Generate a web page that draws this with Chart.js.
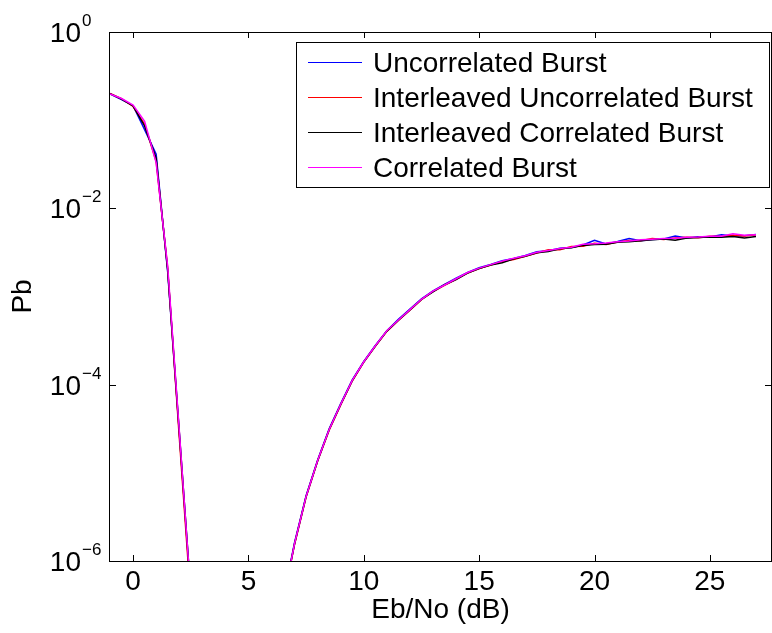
<!DOCTYPE html>
<html lang="en">
<head>
<meta charset="UTF-8">
<title>Pb vs Eb/No</title>
<script src="https://cdn.jsdelivr.net/npm/chart.js"></script>
<style>
  html, body { margin: 0; padding: 0; background: #fff; }
  #wrap { width: 772px; height: 633px; }
</style>
</head>
<body>
<div id="wrap"><canvas id="pbChart"></canvas></div>
<script>
// Eb/No in dB (x axis)
const ebno = [-1, -0.5, 0, 0.5, 1, 1.5, 2, 2.5, 3, 3.5, 4, 4.5, 5, 5.5, 6, 6.5,
  7, 7.5, 8, 8.5, 9, 9.5, 10, 10.5, 11, 11.5, 12, 12.5, 13, 13.5, 14, 14.5,
  15, 15.5, 16, 16.5, 17, 17.5, 18, 18.5, 19, 19.5, 20, 20.5, 21, 21.5,
  22, 22.5, 23, 23.5, 24, 24.5, 25, 25.5, 26, 26.5, 27];

// bit error probability, null = no errors counted
const uncorrBurst = [0.199, 0.171, 0.146, 0.078, 0.041, 1.9e-3, 2.9e-5, 4.2e-7,
  null, null, null, null, null, null, null,
  3.6e-7, 1.62e-6, 5.5e-6, 1.40e-5, 3.15e-5, 6.1e-5, 1.13e-4, 1.84e-4, 2.78e-4, 4.10e-4,
  5.5e-4, 7.2e-4, 9.4e-4, 1.16e-3, 1.37e-3, 1.61e-3, 1.88e-3, 2.12e-3, 2.31e-3, 2.55e-3,
  2.70e-3, 2.92e-3, 3.22e-3, 3.30e-3, 3.52e-3, 3.60e-3, 3.84e-3, 4.35e-3, 3.95e-3, 4.20e-3,
  4.55e-3, 4.30e-3, 4.42e-3, 4.50e-3, 4.85e-3, 4.62e-3, 4.76e-3, 4.72e-3, 5.00e-3, 4.85e-3,
  4.90e-3, 5.05e-3];

const interUncorrBurst = [0.201, 0.175, 0.143, 0.090, 0.034, 2.1e-3, 2.6e-5, 3.6e-7,
  null, null, null, null, null, null, null,
  3.4e-7, 1.55e-6, 5.3e-6, 1.36e-5, 3.05e-5, 5.9e-5, 1.10e-4, 1.80e-4, 2.72e-4, 4.02e-4,
  5.35e-4, 7.0e-4, 9.2e-4, 1.14e-3, 1.34e-3, 1.57e-3, 1.85e-3, 2.07e-3, 2.28e-3, 2.49e-3,
  2.62e-3, 2.86e-3, 3.12e-3, 3.38e-3, 3.40e-3, 3.70e-3, 3.72e-3, 4.02e-3, 3.90e-3, 4.15e-3,
  4.32e-3, 4.30e-3, 4.55e-3, 4.42e-3, 4.62e-3, 4.70e-3, 4.64e-3, 4.82e-3, 4.80e-3, 4.95e-3,
  4.86e-3, 5.02e-3];

const interCorrBurst = [0.200, 0.173, 0.145, 0.086, 0.037, 2.0e-3, 3.0e-5, 4.4e-7,
  null, null, null, null, null, null, null,
  3.5e-7, 1.57e-6, 5.4e-6, 1.37e-5, 3.1e-5, 5.95e-5, 1.11e-4, 1.81e-4, 2.74e-4, 4.05e-4,
  5.38e-4, 7.05e-4, 9.25e-4, 1.13e-3, 1.36e-3, 1.56e-3, 1.84e-3, 2.08e-3, 2.27e-3, 2.42e-3,
  2.68e-3, 2.85e-3, 3.14e-3, 3.24e-3, 3.48e-3, 3.56e-3, 3.80e-3, 3.88e-3, 3.92e-3, 4.12e-3,
  4.18e-3, 4.30e-3, 4.40e-3, 4.48e-3, 4.35e-3, 4.60e-3, 4.66e-3, 4.72e-3, 4.70e-3, 4.80e-3,
  4.60e-3, 4.78e-3];

const corrBurst = [0.198, 0.176, 0.148, 0.097, 0.033, 2.2e-3, 3.1e-5, 4.3e-7,
  null, null, null, null, null, null, null,
  3.45e-7, 1.58e-6, 5.4e-6, 1.38e-5, 3.1e-5, 6.0e-5, 1.12e-4, 1.82e-4, 2.76e-4, 4.08e-4,
  5.42e-4, 7.1e-4, 9.3e-4, 1.15e-3, 1.35e-3, 1.59e-3, 1.87e-3, 2.10e-3, 2.30e-3, 2.52e-3,
  2.72e-3, 2.90e-3, 3.17e-3, 3.32e-3, 3.50e-3, 3.62e-3, 3.92e-3, 3.96e-3, 4.05e-3, 4.18e-3,
  4.26e-3, 4.40e-3, 4.46e-3, 4.55e-3, 4.58e-3, 4.70e-3, 4.74e-3, 4.82e-3, 4.83e-3, 5.15e-3,
  4.95e-3, 5.02e-3];

const seriesNames = ['Uncorrelated Burst', 'Interleaved Uncorrelated Burst',
  'Interleaved Correlated Burst', 'Correlated Burst'];
const xTicks = [0, 5, 10, 15, 20, 25];
const yTicks = [1e-6, 1e-4, 1e-2, 1];

const FONT = '"Liberation Sans", Arial, Helvetica, sans-serif';

function points(values) {
  return ebno.map((x, i) => ({ x: x, y: values[i] }));
}

// box, inward ticks, 10^n labels and the boxed legend, matlab style
const matlabAxes = {
  id: 'matlabAxes',
  afterDatasetsDraw(chart) {
    const ctx = chart.ctx;
    const a = chart.chartArea;
    const xs = chart.scales.x, ys = chart.scales.y;
    ctx.save();
    ctx.strokeStyle = '#000';
    ctx.lineWidth = 1;

    ctx.beginPath();
    xTicks.forEach(v => {
      const px = Math.round(xs.getPixelForValue(v)) + 0.5;
      ctx.moveTo(px, a.bottom); ctx.lineTo(px, a.bottom - 6);
      ctx.moveTo(px, a.top); ctx.lineTo(px, a.top + 6);
    });
    yTicks.forEach(v => {
      const py = Math.round(ys.getPixelForValue(v)) + 0.5;
      ctx.moveTo(a.left, py); ctx.lineTo(a.left + 6, py);
      ctx.moveTo(a.right, py); ctx.lineTo(a.right - 6, py);
    });
    ctx.stroke();
    ctx.strokeRect(a.left - 0.5, a.top + 0.5, a.right - a.left + 1, a.bottom - a.top);

    // y tick labels with superscript exponent
    ctx.fillStyle = '#000';
    ctx.textBaseline = 'alphabetic';
    yTicks.forEach(v => {
      const py = ys.getPixelForValue(v);
      const e = Math.round(Math.log10(v));
      ctx.font = '28px ' + FONT;
      ctx.textAlign = 'right';
      ctx.fillText('10', a.left - 29, py + 10);
      ctx.font = '17px ' + FONT;
      ctx.textAlign = 'left';
      ctx.fillText(e < 0 ? '\u2212' + (-e) : String(e), a.left - 28, py - 6);
    });

    // legend
    const lw = 473, lh = 145;
    const lx = a.right - 2 - lw, ly = a.top + 10;
    ctx.fillStyle = '#fff';
    ctx.fillRect(lx, ly, lw, lh);
    ctx.strokeStyle = '#000';
    ctx.strokeRect(lx + 0.5, ly + 0.5, lw, lh);
    chart.data.datasets.forEach((ds, i) => {
      const cy = ly + 20 + i * 35;
      ctx.strokeStyle = ds.borderColor;
      ctx.beginPath();
      ctx.moveTo(lx + 12, cy + 0.5);
      ctx.lineTo(lx + 66, cy + 0.5);
      ctx.stroke();
      ctx.fillStyle = '#000';
      ctx.font = '28px ' + FONT;
      ctx.textAlign = 'left';
      ctx.fillText(ds.label, lx + 77, cy + 10);
    });
    ctx.restore();
  }
};

const colors = ['#0000ff', '#ff0000', '#000000', '#ff00ff'];
const allSeries = [uncorrBurst, interUncorrBurst, interCorrBurst, corrBurst];

new Chart(document.getElementById('pbChart'), {
  type: 'line',
  data: {
    datasets: allSeries.map((vals, i) => ({
      label: seriesNames[i],
      data: points(vals),
      borderColor: colors[i],
      backgroundColor: colors[i],
      borderWidth: 1.5,
      pointRadius: 0,
      fill: false,
      tension: 0,
      spanGaps: false,
      order: allSeries.length - 1 - i
    }))
  },
  options: {
    responsive: true,
    maintainAspectRatio: false,
    animation: false,
    devicePixelRatio: 1,
    layout: { padding: { top: 32, right: 1, bottom: 0, left: 0 } },
    plugins: {
      legend: { display: false },
      tooltip: { enabled: false }
    },
    scales: {
      x: {
        type: 'linear',
        min: -1,
        max: 27.65,
        grid: { display: false, drawTicks: false },
        border: { display: false },
        afterBuildTicks: s => { s.ticks = xTicks.map(v => ({ value: v })); },
        afterFit: s => { s.height = 72; },
        ticks: { color: '#000', padding: 4, maxRotation: 0, font: { family: FONT, size: 28 } },
        title: {
          display: true,
          text: 'Eb/No (dB)',
          color: '#000',
          padding: { top: 0, bottom: 6 },
          font: { family: FONT, size: 28 }
        }
      },
      y: {
        type: 'logarithmic',
        min: 1e-6,
        max: 1,
        grid: { display: false, drawTicks: false },
        border: { display: false },
        afterBuildTicks: s => { s.ticks = yTicks.map(v => ({ value: v })); },
        afterFit: s => { s.width = 110; },
        ticks: { display: false },
        title: {
          display: true,
          text: 'Pb',
          color: '#000',
          padding: { top: 6, bottom: 0 },
          font: { family: FONT, size: 28 }
        }
      }
    }
  },
  plugins: [matlabAxes]
});
</script>
</body>
</html>
